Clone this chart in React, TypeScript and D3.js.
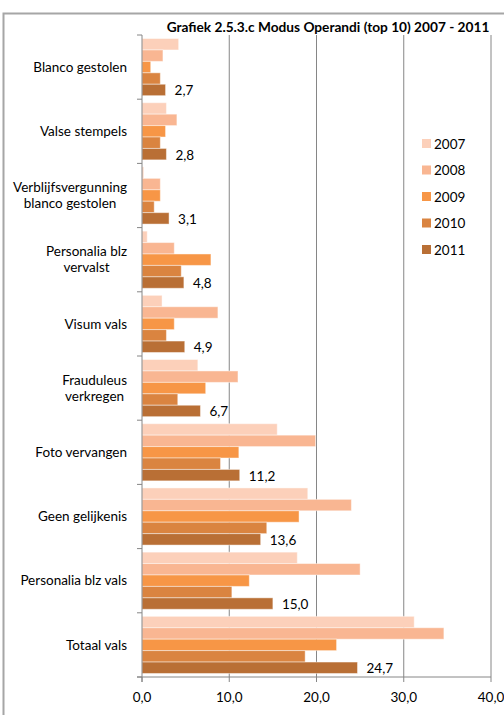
import * as d3 from 'd3';
import React, {useEffect, useRef} from 'react';

// categories top to bottom, multi-line labels split with "|"
const categories = [
    "Blanco gestolen",
    "Valse stempels",
    "Verblijfsvergunning|blanco gestolen",
    "Personalia blz|vervalst",
    "Visum vals",
    "Frauduleus|verkregen",
    "Foto vervangen",
    "Geen gelijkenis",
    "Personalia blz vals",
    "Totaal vals"
];

const years = ["2007", "2008", "2009", "2010", "2011"];

// values per year, in category order
const v2007 = [4.2, 2.8, 0.2, 0.6, 2.3, 6.4, 15.5, 19.0, 17.8, 31.2];
const v2008 = [2.4, 4.0, 2.1, 3.7, 8.7, 11.0, 19.9, 24.0, 25.0, 34.6];
const v2009 = [1.0, 2.7, 2.1, 7.9, 3.7, 7.3, 11.1, 18.0, 12.3, 22.3];
const v2010 = [2.1, 2.1, 1.4, 4.5, 2.8, 4.1, 9.0, 14.3, 10.3, 18.7];
const v2011 = [2.7, 2.8, 3.1, 4.8, 4.9, 6.7, 11.2, 13.6, 15.0, 24.7];

const xTicks = [0, 10, 20, 30, 40];

const colors = ["#FCD0BA", "#F9B692", "#F79646", "#DA8440", "#B96F35"];

const FONT = "Lato, 'Open Sans', sans-serif";

export default function App() {
    const svgRef = useRef<SVGSVGElement | null>(null);

    useEffect(() => {
        const svg = d3.select(svgRef.current);
        svg.selectAll("*").remove();

        const margin = {l: 142, t: 35, r: 13, b: 38};
        const width = 504, height = 715;
        const chartWidth = width - margin.l - margin.r;
        const chartHeight = height - margin.t - margin.b;

        const series = [v2007, v2008, v2009, v2010, v2011];
        const rows = categories.map((c, i) => ({
            cat: c,
            values: years.map((y, j) => ({year: y, value: series[j][i]}))
        }));

        const xScale = d3.scaleLinear().domain([0, 40]).range([0, chartWidth]);
        const yScale = d3.scaleBand().domain(categories).range([0, chartHeight])
            .paddingInner(0.11).paddingOuter(0.055);
        const yInScale = d3.scaleBand().domain(years).range([0, yScale.bandwidth()]);
        const colorScale = d3.scaleOrdinal<string, string>().domain(years).range(colors);

        // outer frame
        svg.append("rect")
            .attr("x", 3.5).attr("y", 13.5)
            .attr("width", 600).attr("height", 800)
            .attr("fill", "none")
            .attr("stroke", "#A6A6A6")
            .attr("stroke-width", 2);

        // title
        svg.append("text")
            .text("Grafiek 2.5.3.c Modus Operandi (top 10) 2007 - 2011")
            .attr("x", 328).attr("y", 32)
            .attr("text-anchor", "middle")
            .style("font-family", FONT)
            .style("font-weight", "bold")
            .style("font-size", "13.7px")
            .attr("fill", "#000");

        const g = svg.append("g").attr("transform", `translate(${margin.l}, ${margin.t})`);

        // gridlines
        g.selectAll(".grid")
            .data(xTicks.filter((t) => t > 0))
            .enter().append("line")
            .attr("x1", (d) => xScale(d)).attr("x2", (d) => xScale(d))
            .attr("y1", 0).attr("y2", chartHeight)
            .attr("stroke", "#868686")
            .attr("stroke-width", 1);

        // bars
        const group = g.selectAll(".region")
            .data(rows)
            .enter().append("g")
            .attr("class", "region")
            .attr("transform", (d) => `translate(0, ${yScale(d.cat)})`);

        group.selectAll(".bar")
            .data((d) => d.values)
            .enter().append("rect")
            .attr("class", "bar")
            .attr("x", 0)
            .attr("y", (d) => yInScale(d.year) as number)
            .attr("width", (d) => xScale(d.value))
            .attr("height", yInScale.bandwidth())
            .attr("fill", (d) => colorScale(d.year))
            .attr("stroke", "#ffffff")
            .attr("stroke-opacity", 0.45)
            .attr("stroke-width", 1);

        // labels for 2011
        group.append("text")
            .text((d) => d3.format(".1f")(d.values[4].value).replace(".", ","))
            .attr("x", (d) => xScale(d.values[4].value) + 9)
            .attr("y", (d) => (yInScale("2011") as number) + yInScale.bandwidth() / 2)
            .attr("dy", "0.4em")
            .style("font-family", FONT)
            .style("font-size", "13.5px")
            .attr("fill", "#000");

        // y axis line + ticks at category boundaries
        const step = chartHeight / categories.length;
        g.append("line")
            .attr("x1", 0).attr("x2", 0).attr("y1", 0).attr("y2", chartHeight + 5)
            .attr("stroke", "#868686");
        g.selectAll(".ytick")
            .data(d3.range(categories.length + 1))
            .enter().append("line")
            .attr("x1", -5).attr("x2", 0)
            .attr("y1", (d) => d * step).attr("y2", (d) => d * step)
            .attr("stroke", "#868686");

        // x axis
        g.append("line")
            .attr("x1", -5).attr("x2", chartWidth)
            .attr("y1", chartHeight).attr("y2", chartHeight)
            .attr("stroke", "#868686");
        g.selectAll(".xtick")
            .data(xTicks)
            .enter().append("line")
            .attr("x1", (d) => xScale(d)).attr("x2", (d) => xScale(d))
            .attr("y1", chartHeight).attr("y2", chartHeight + 5)
            .attr("stroke", "#868686");
        g.selectAll(".xlabel")
            .data(xTicks)
            .enter().append("text")
            .text((d) => d3.format(".1f")(d).replace(".", ","))
            .attr("x", (d) => xScale(d))
            .attr("y", chartHeight + 25)
            .attr("text-anchor", "middle")
            .style("font-family", FONT)
            .style("font-size", "13.5px")
            .attr("fill", "#000");

        // category labels, multi-line blocks centred but right aligned as a block
        rows.forEach((r) => {
            const lines = r.cat.split("|");
            const cy = (yScale(r.cat) as number) + yScale.bandwidth() / 2;
            const lineHeight = 16;
            const t = g.append("text")
                .style("font-family", FONT)
                .style("font-size", "13.5px")
                .attr("fill", "#000");
            const spans = lines.map((line, i) => t.append("tspan")
                .text(line)
                .attr("y", cy + (i - (lines.length - 1) / 2) * lineHeight)
                .attr("dy", "0.35em"));
            const maxW = d3.max(spans, (s) => (s.node() as SVGTSpanElement).getComputedTextLength()) || 0;
            spans.forEach((s) => s.attr("x", -15 - maxW / 2).attr("text-anchor", "middle"));
        });

        // legend
        const legend = svg.append("g").attr("transform", "translate(422, 139)");
        legend.selectAll(".legend-box")
            .data(years)
            .enter().append("rect")
            .attr("x", 0)
            .attr("y", (d, i) => i * 26.5)
            .attr("width", 9).attr("height", 9)
            .attr("fill", (d) => colorScale(d));
        legend.selectAll(".legend-text")
            .data(years)
            .enter().append("text")
            .text((d) => d)
            .attr("x", 12)
            .attr("y", (d, i) => i * 26.5 + 4.5)
            .attr("dy", "0.38em")
            .style("font-family", FONT)
            .style("font-size", "13.5px")
            .attr("fill", "#000");
    }, []);

    return (
        <svg ref={svgRef} width={504} height={715}
             style={{position: "absolute", left: 0, top: 0, background: "#fff"}} />
    );
}
